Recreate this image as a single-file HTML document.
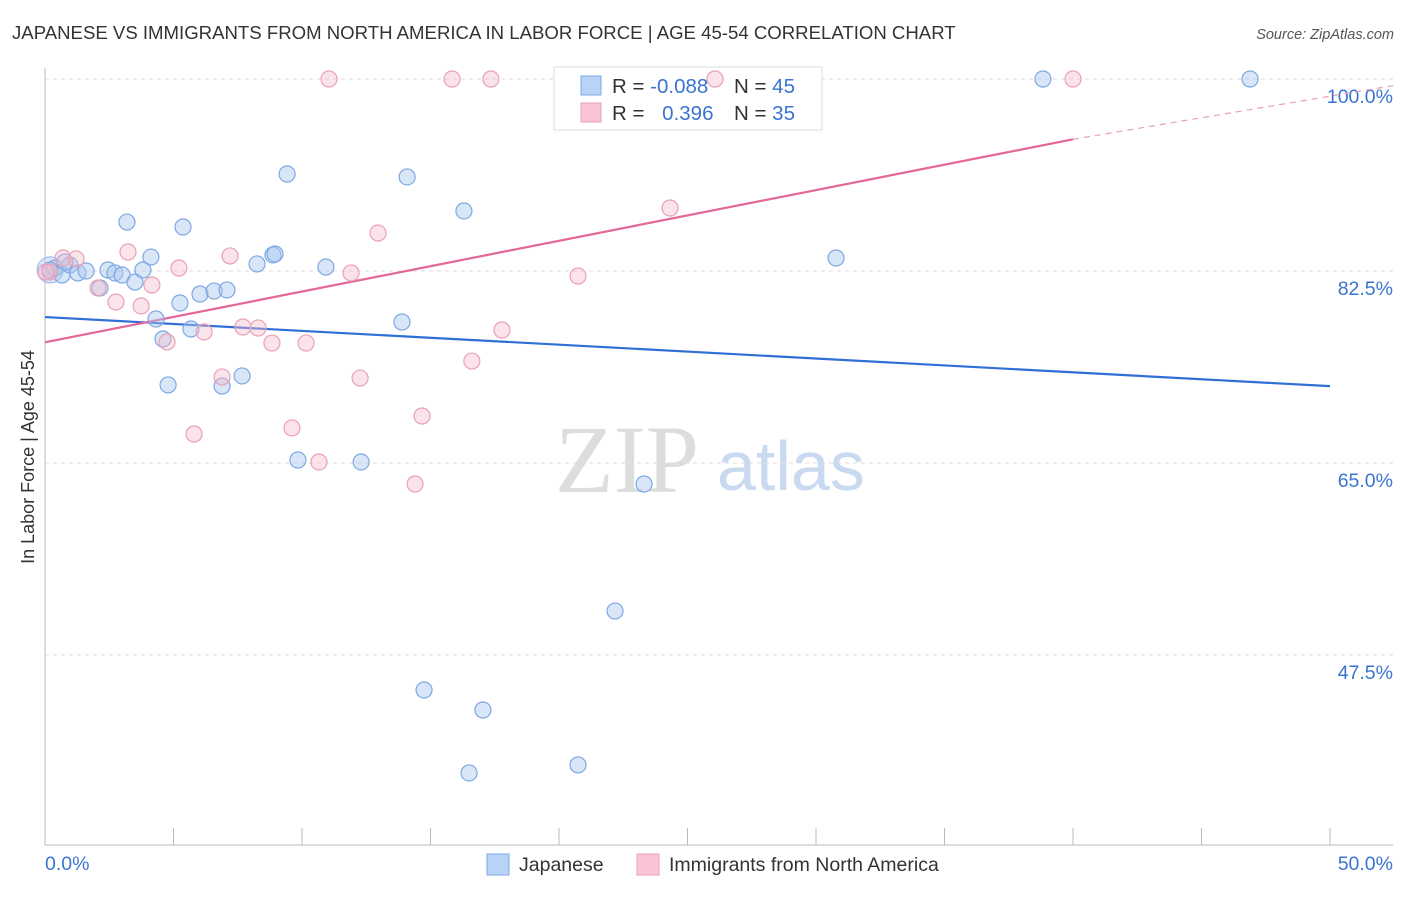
<!DOCTYPE html>
<html><head><meta charset="utf-8"><style>
body{margin:0;background:#fff;font-family:"Liberation Sans",sans-serif;}
</style></head><body>
<svg id="chart" width="1406" height="892" xmlns="http://www.w3.org/2000/svg" style="font-family:'Liberation Sans',sans-serif">
<text x="12" y="39" font-size="18.6" fill="#333">JAPANESE VS IMMIGRANTS FROM NORTH AMERICA IN LABOR FORCE | AGE 45-54 CORRELATION CHART</text>
<text x="1394" y="39" font-size="14.5" fill="#555" text-anchor="end" font-style="italic">Source: ZipAtlas.com</text>
<g>
<text x="555" y="492" font-size="96" fill="#ddd" font-family="Liberation Serif">ZIP</text>
<text x="717" y="490" font-size="70" fill="#c8d9f0">atlas</text>
</g>
<g id="grid"></g><g id="axes"></g>
<g>
<rect x="554" y="67" width="268" height="63" fill="#fff" stroke="#ddd"/>
<rect x="581" y="76" width="20" height="19" fill="#b8d3f5" stroke="#7ea8e4"/>
<rect x="581" y="103" width="20" height="19" fill="#f9c4d4" stroke="#eaa0b8"/>
<text x="612" y="93" font-size="20.5" fill="#333">R = <tspan fill="#3a74d0">-0.088</tspan></text>
<text x="734" y="93" font-size="20.5" fill="#333">N = <tspan fill="#3a74d0">45</tspan></text>
<text x="612" y="120" font-size="20.5" fill="#333">R = <tspan fill="#3a74d0" dx="12">0.396</tspan></text>
<text x="734" y="120" font-size="20.5" fill="#333">N = <tspan fill="#3a74d0">35</tspan></text>
</g>
<g id="lines"></g><g id="pts"></g>
<text transform="translate(34,457) rotate(-90)" font-size="18" fill="#333" text-anchor="middle">In Labor Force | Age 45-54</text>
<g>
<rect x="487" y="854" width="22" height="21" fill="#b8d3f5" stroke="#7ea8e4"/>
<text x="519" y="871" font-size="19.5" fill="#333">Japanese</text>
<rect x="637" y="854" width="22" height="21" fill="#f9c4d4" stroke="#eaa0b8"/>
<text x="669" y="871" font-size="19.5" fill="#333">Immigrants from North America</text>
</g>
</svg>
<script>
const yTicks=[100,82.5,65,47.5];
const yTickLabels=["100.0%","82.5%","65.0%","47.5%"];
const xTickLabels=["0.0%","50.0%"];
const blueX=[0.39,0.66,0.97,1.28,1.60,2.14,2.45,2.72,3.00,3.19,3.50,3.81,4.12,4.32,4.59,4.79,5.25,5.37,5.68,6.03,6.58,6.89,7.08,7.67,8.25,8.87,8.95,9.42,9.84,10.93,12.30,13.89,14.09,14.75,16.30,16.50,17.04,20.74,22.18,23.31,30.78,38.83,46.89,0.19,0.78];
const blueY=[82.77,82.13,83.04,82.32,82.50,80.95,82.59,82.32,82.13,86.96,81.49,82.59,83.77,78.12,76.30,72.11,79.58,86.51,77.21,80.40,80.67,72.01,80.77,72.93,83.14,83.96,84.05,91.34,65.27,82.86,65.09,77.85,91.07,44.3,87.97,36.74,42.48,37.47,51.5,63.08,83.68,100,100,82.59,83.32];
const pinkX=[0.19,0.70,1.21,2.06,2.76,3.23,3.74,4.16,4.75,5.21,5.80,6.19,6.89,7.20,7.70,8.29,8.83,9.61,10.16,10.66,11.05,11.91,12.26,12.96,14.40,14.67,15.84,16.61,17.35,17.78,20.74,24.32,26.07,40.0,0.04];
const pinkY=[82.41,83.68,83.59,80.95,79.67,84.23,79.31,81.22,76.03,82.77,67.64,76.94,72.84,83.87,77.39,77.30,75.93,68.19,75.93,65.09,100,82.32,72.74,85.96,63.08,69.28,100,74.29,100,77.12,82.04,88.24,100,100,82.41];
const blueLine=[78.3,72.0];
const pinkLine=[76.0,94.5];
const NS="http://www.w3.org/2000/svg";
const X=v=>45+v*25.7, Y=v=>79+(100-v)*10.97;
function mk(p,t,a){const e=document.createElementNS(NS,t);for(const k in a)e.setAttribute(k,a[k]);document.getElementById(p).appendChild(e);return e;}
yTicks.forEach((t,i)=>{
 const l=mk('grid','line',{x1:45,x2:1393,y1:Y(t),y2:Y(t),stroke:'#ddd','stroke-dasharray':'4,4'});
 
 
 const tx=mk('grid','text',{x:1393,y:Y(t)+24,'font-size':19.5,fill:'#3a74d0','text-anchor':'end'});
 tx.textContent=yTickLabels[i];
 
 
});
let ax=mk('axes','line',{x1:45,x2:45,y1:68,y2:845,stroke:'#bbb'});


ax=mk('axes','line',{x1:45,x2:1393,y1:845,y2:845,stroke:'#bbb'});


for(let i=0;i<=10;i++){const t=mk('axes','line',{x1:X(i*5),x2:X(i*5),y1:828,y2:845,stroke:'#bbb'});
 
 }
[[0,'start',45],[50,'end',1393]].forEach((d,i)=>{const t=mk('axes','text',{x:d[2],y:870,'font-size':19.5,fill:'#3a74d0','text-anchor':d[1]});t.textContent=xTickLabels[i];
 
 });
let ln=mk('lines','line',{x1:X(0),y1:Y(blueLine[0]),x2:X(50),y2:Y(blueLine[1]),stroke:'#2f6fd6','stroke-width':2.2});


ln=mk('lines','line',{x1:X(0),y1:Y(pinkLine[0]),x2:X(40),y2:Y(pinkLine[1]),stroke:'#e4679a','stroke-width':2.2});


const slope2=(pinkLine[1]-pinkLine[0])/40*0.85;
ln=mk('lines','line',{x1:X(40),y1:Y(pinkLine[1]),x2:X(52.5),y2:Y(pinkLine[1]+slope2*12.5),stroke:'#eaa0b8','stroke-width':1.2,'stroke-dasharray':'6,5'});


const bigB=mk('pts','circle',{cx:X(0.2),cy:Y(82.6),r:13,fill:'rgba(169,200,240,0.4)',stroke:'#8fb4e8'});


blueX.forEach((x,i)=>{const c=mk('pts','circle',{cx:X(x),cy:Y(blueY[i]),r:8,fill:'rgba(169,200,240,0.45)',stroke:'#7ea8e4','stroke-width':1.2});
 
 });
pinkX.forEach((x,i)=>{const c=mk('pts','circle',{cx:X(x),cy:Y(pinkY[i]),r:8,fill:'rgba(245,184,203,0.4)',stroke:'#eaa0b8','stroke-width':1.2});
 
 });
</script>
</body></html>
